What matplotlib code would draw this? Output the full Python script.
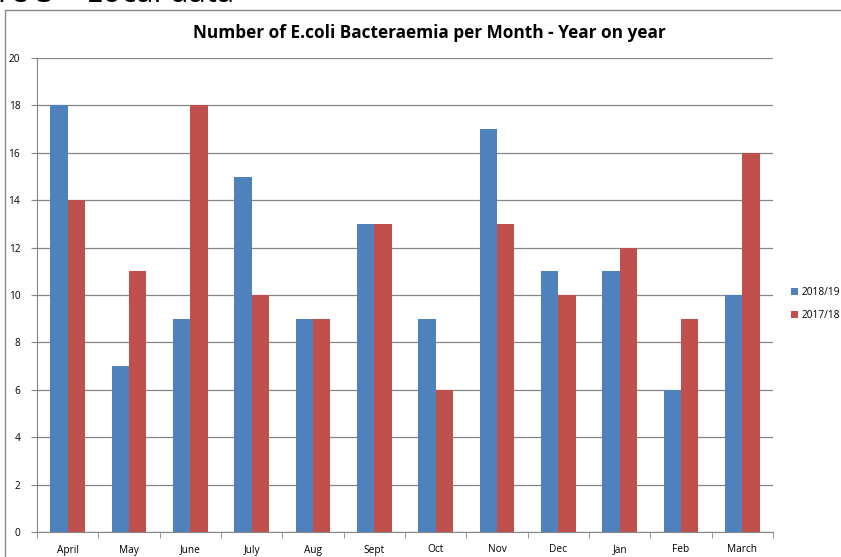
import matplotlib
matplotlib.use("Agg")
import matplotlib.pyplot as plt
from matplotlib.patches import Rectangle
import numpy as np

months = ["April", "May", "June", "July", "Aug", "Sept", "Oct", "Nov", "Dec", "Jan", "Feb", "March"]
series_names = ["2018/19", "2017/18"]
values_1819 = [18, 7, 9, 15, 9, 13, 9, 17, 11, 11, 6, 10]
values_1718 = [14, 11, 18, 10, 9, 13, 6, 13, 10, 12, 9, 16]
colors = ["#4F81BD", "#C0504D"]

plt.rcParams["font.family"] = ["Open Sans", "DejaVu Sans"]

W, H = 841, 557
fig = plt.figure(figsize=(W / 100, H / 100), dpi=100)

# page heading above the chart, running off the top edge
fig.text(-2 / W, 1 - 1.5 / H, "re 3 \u2013 Local data", fontsize=22.5, va="baseline", ha="left",
         color="black")

# chart frame
fig.patches.append(Rectangle((5 / W, -0.1), 1.2, 1.1 - 10 / H, transform=fig.transFigure,
                             fill=False, edgecolor="#868686", linewidth=1.0))

ax = fig.add_axes([37 / W, 1 - 532 / H, (773 - 37) / W, (532 - 58) / H])

x = np.arange(len(months))
bw = 0.28
b1 = ax.bar(x - bw / 2, values_1819, width=bw, color=colors[0], label=series_names[0], zorder=3)
b2 = ax.bar(x + bw / 2, values_1718, width=bw, color=colors[1], label=series_names[1], zorder=3)

ax.set_xlim(-0.5, len(months) - 0.5)
ax.set_ylim(0, 20)
ax.set_yticks(range(0, 21, 2))
ax.yaxis.grid(True, color="#868686", linewidth=0.9, zorder=0)
ax.set_axisbelow(True)

ax.set_xticks(x)
ax.set_xticklabels(months, fontsize=7.3)
ax.set_xticks(np.arange(-0.5, len(months), 1), minor=True)
ax.tick_params(axis="x", which="major", length=0, pad=9)
ax.tick_params(axis="x", which="minor", length=4, color="#868686", direction="out")
ax.tick_params(axis="y", labelsize=7.3, length=4, color="#868686", pad=8)

for s in ["top", "right"]:
    ax.spines[s].set_visible(False)
for s in ["left", "bottom"]:
    ax.spines[s].set_color("#868686")

fig.text(429 / W, 1 - 33 / H, "Number of E.coli Bacteraemia per Month - Year on year",
         fontsize=12.4, fontweight="bold", ha="center", va="center")

fig.legend(handles=[b1, b2], labels=series_names, loc="center left",
           bbox_to_anchor=(782 / W, 1 - 304 / H),
           frameon=False, fontsize=7.3, handlelength=0.7, handleheight=0.7,
           handletextpad=0.3, labelspacing=1.2)

fig.savefig("out.png", dpi=100)
